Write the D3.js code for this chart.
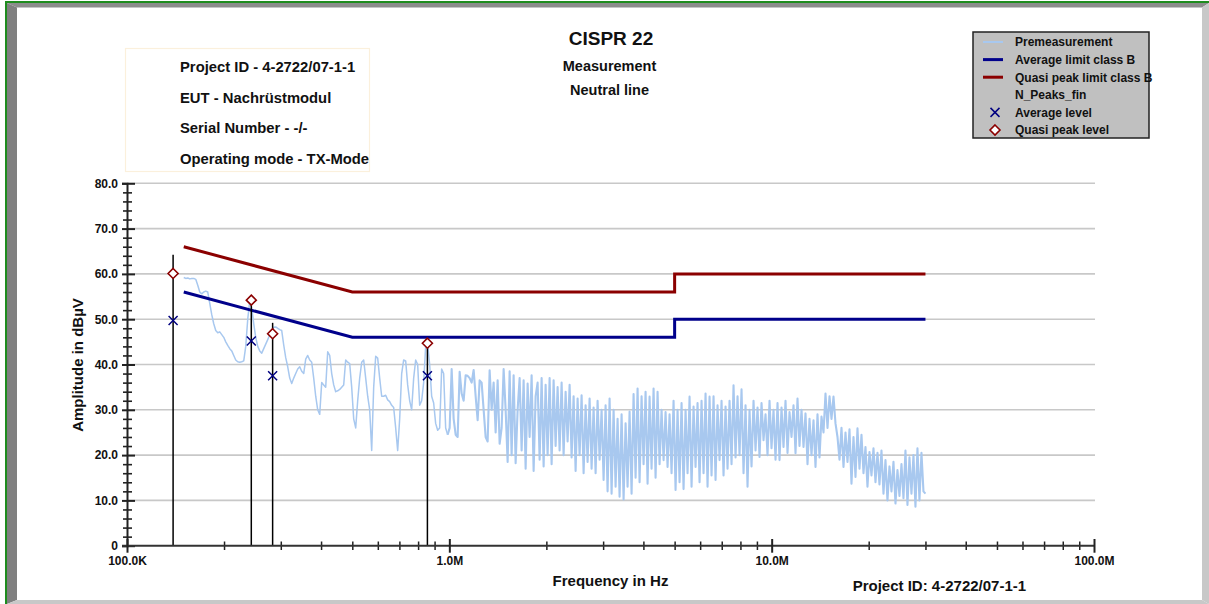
<!DOCTYPE html>
<html>
<head>
<meta charset="utf-8">
<script src="https://cdn.jsdelivr.net/npm/d3@7"></script>
<style>
html,body{margin:0;padding:0;background:#fff;}
svg{display:block;}
text{font-family:"Liberation Sans",Arial,Helvetica,sans-serif;font-weight:bold;fill:#111;}
</style>
</head>
<body>
<script>
// ---------------- data ----------------
const titleLines = ["CISPR 22", "Measurement", "Neutral line"];
const infoLines = ["Project ID - 4-2722/07-1-1", "EUT - Nachrüstmodul", "Serial Number - -/-", "Operating mode - TX-Mode"];
const footerText = "Project ID: 4-2722/07-1-1";
const xTitle = "Frequency in Hz";
const yTitle = "Amplitude in dBµV";

const xMajorTicks = [1e5, 1e6, 1e7, 1e8];
const xTickLabels = ["100.0K", "1.0M", "10.0M", "100.0M"];
const yMajorTicks = [0, 10, 20, 30, 40, 50, 60, 70, 80];
const yTickLabels = ["0", "10.0", "20.0", "30.0", "40.0", "50.0", "60.0", "70.0", "80.0"];

const legendNames = ["Premeasurement", "Average limit class B", "Quasi peak limit class B", "N_Peaks_fin", "Average level", "Quasi peak level"];

// limits (Hz, dBµV)
const avgLimitFreq  = [150e3, 500e3, 5e6, 5e6, 30e6];
const avgLimitLevel = [56, 46, 46, 50, 50];
const qpLimitFreq   = [150e3, 500e3, 5e6, 5e6, 30e6];
const qpLimitLevel  = [66, 56, 56, 60, 60];

// final peaks
const peakFreq     = [139e3, 243e3, 283e3, 855e3];
const peakLevel    = [64.2, 54.6, 49.2, 45.5];
const qpLevel      = [60.1, 54.2, 46.8, 44.7];
const avgLevel     = [49.7, 45.2, 37.5, 37.5];

// premeasurement sweep (150 kHz .. 30 MHz, log-spaced sweep points), levels in dBµV
const premStartHz = 150e3, premStopHz = 30e6;
const premLevels = [
 59.2, 59.0, 59.1, 58.9, 59.0, 59.0, 58.8, 57.5, 56.0, 55.6,
 56.0, 56.2, 56.0, 53.5, 51.0, 49.0, 47.5, 47.0, 47.2, 46.6,
 46.0, 45.0, 44.2, 43.5, 43.0, 42.0, 41.0, 40.6, 40.5, 40.6,
 40.8, 44.0, 50.0, 54.0, 52.5, 49.0, 46.0, 44.0, 43.0, 42.5,
 43.5, 44.5, 45.5, 46.5, 47.5, 48.2, 48.3, 48.0, 47.7, 47.5,
 44.3, 41.5, 39.5, 37.0, 35.8, 37.0, 38.0, 39.0, 39.5, 38.5,
 38.0, 41.2, 42.0, 41.0, 40.5, 37.0, 33.0, 30.0, 29.0, 36.0,
 35.5, 35.0, 42.8, 42.0, 38.0, 35.5, 34.0, 34.2, 34.5, 35.0,
 35.5, 41.0, 40.5, 40.2, 35.0, 28.0, 26.0, 32.0, 37.0, 40.5,
 41.0, 37.0, 33.0, 30.0, 21.0, 35.0, 41.8, 41.4, 37.0, 33.0,
 33.0, 33.2, 32.2, 31.8, 31.0, 30.5, 26.0, 21.0, 28.0, 38.0,
 41.0, 40.8, 35.5, 32.0, 30.0, 37.0, 41.0, 40.0, 31.0, 32.0,
 36.0, 44.0, 44.5, 40.0, 33.0, 31.5, 27.0, 25.5, 26.0, 39.0,
 38.0, 26.0, 24.5, 26.0, 39.0, 28.0, 24.5, 24.0, 38.4, 33.6,
 32.0, 37.6, 37.5, 37.0, 36.0, 38.8, 33.0, 27.7, 36.5, 36.0,
 30.0, 24.0, 23.0, 38.7, 30.0, 36.0, 25.0, 36.5, 22.5, 26.0,
 39.0, 30.0, 18.5, 38.5, 20.0, 37.6, 18.2, 30.0, 37.0, 21.0,
 36.5, 17.0, 35.8, 24.0, 37.6, 16.5, 33.0, 36.0, 19.0, 37.0,
 17.5, 35.5, 20.0, 37.0, 18.0, 36.5, 22.0, 35.0, 21.0, 36.0,
 20.0, 34.0, 23.0, 35.5, 19.5, 33.0, 16.5, 32.5, 20.0, 33.2,
 16.0, 31.0, 18.5, 32.5, 17.0, 30.5, 16.0, 32.0, 19.0, 30.0,
 14.5, 31.0, 12.0, 32.5, 11.5, 30.0, 13.0, 28.0, 10.8, 29.0,
 10.2, 27.0, 13.0, 29.6, 11.5, 33.5, 15.0, 34.7, 14.0, 33.0,
 18.0, 34.0, 13.7, 32.9, 17.0, 34.7, 15.0, 34.0, 18.0, 30.0,
 18.9, 29.5, 17.4, 29.0, 16.0, 32.0, 12.3, 30.0, 14.0, 31.5,
 12.5, 30.0, 16.0, 32.9, 13.0, 30.7, 17.4, 31.5, 14.0, 32.0,
 16.0, 33.6, 13.0, 32.9, 15.5, 33.0, 14.5, 31.0, 18.9, 32.0,
 15.5, 30.7, 17.0, 32.0, 18.0, 35.4, 19.5, 33.0, 20.0, 34.5,
 16.0, 31.0, 13.0, 30.0, 17.5, 32.0, 21.0, 30.5, 19.6, 31.5,
 23.3, 29.0, 20.0, 32.0, 21.5, 30.0, 19.0, 31.5, 18.9, 30.5,
 21.8, 32.0, 20.5, 29.5, 24.0, 31.0, 20.4, 32.5, 22.0, 30.0,
 21.8, 29.2, 18.0, 28.0, 20.0, 27.7, 17.4, 29.0, 19.5, 28.5,
 25.0, 33.6, 26.0, 33.0, 28.0, 32.9, 27.0, 24.0, 19.0, 26.0,
 17.4, 25.0, 18.5, 25.7, 13.7, 24.0, 15.2, 25.9, 17.0, 24.5,
 16.0, 21.8, 13.0, 20.7, 15.5, 21.5, 14.0, 20.5, 13.5, 21.0,
 11.5, 18.9, 10.0, 17.5, 12.0, 18.5,  9.3, 16.7, 11.0, 18.0,
 10.5, 21.0,  9.0, 19.5, 11.5, 20.0,  8.6, 21.5, 10.0, 20.5,
 12.0, 11.5
];
// index from which the sweep becomes dense (about 1 MHz)
const premDenseFrom = 132;

// ---------------- drawing ----------------
const W = 1209, H = 604;
const svg = d3.select("body").append("svg").attr("width", W).attr("height", H);

// frame
svg.append("rect").attr("x",0).attr("y",0).attr("width",W).attr("height",H).attr("fill","#fff");
svg.append("polygon").attr("points","7,3 1209,3 1202,7.5 17,7.5").attr("fill","#8c8c8c");
svg.append("polygon").attr("points","7,3 17,7.5 17,600 7,604").attr("fill","#808080");
svg.append("polygon").attr("points","1209,3 1209,604 1202,600 1202,7.5").attr("fill","#c8c8c8");
svg.append("polygon").attr("points","7,604 17,600 1202,600 1209,604").attr("fill","#c8c8c8");
svg.append("rect").attr("x",5).attr("y",1).attr("width",1204).attr("height",2).attr("fill","#1e8c1e");
svg.append("rect").attr("x",5).attr("y",1).attr("width",2).attr("height",603).attr("fill","#1e8c1e");

// scales
const x = d3.scaleLog().domain([1e5, 1e8]).range([127, 1094]);
const y = d3.scaleLinear().domain([0, 80]).range([545.7, 183.3]);

// gridlines
svg.append("g").selectAll("line").data(yMajorTicks.filter(v => v > 0)).join("line")
  .attr("x1", x(1e5)).attr("x2", 1095).attr("y1", d => y(d)).attr("y2", d => y(d))
  .attr("stroke", "#c8c8c8").attr("stroke-width", 1.6);

// premeasurement
const nPrem = premLevels.length;
const premData = premLevels.map((v, i) => [premStartHz * Math.pow(premStopHz / premStartHz, i / (nPrem - 1)), v]);
const premLine = d3.line().x(d => x(d[0])).y(d => y(d[1]));
svg.append("path").datum(premData.slice(premDenseFrom))
  .attr("fill", "none").attr("stroke", "#a8c8ef").attr("stroke-width", 2.1).attr("stroke-linejoin", "round")
  .attr("d", premLine);
svg.append("path").datum(premData.slice(0, premDenseFrom + 1))
  .attr("fill", "none").attr("stroke", "#a8c8ef").attr("stroke-width", 1.5).attr("stroke-linejoin", "round")
  .attr("d", premLine);

// limits
const limLine = d3.line().x(d => x(d[0])).y(d => y(d[1]));
svg.append("path").datum(qpLimitFreq.map((f, i) => [f, qpLimitLevel[i]]))
  .attr("fill", "none").attr("stroke", "#8b0000").attr("stroke-width", 3).attr("d", limLine);
svg.append("path").datum(avgLimitFreq.map((f, i) => [f, avgLimitLevel[i]]))
  .attr("fill", "none").attr("stroke", "#00008b").attr("stroke-width", 3).attr("d", limLine);

// stems (N_Peaks_fin)
svg.append("g").selectAll("line").data(peakFreq).join("line")
  .attr("x1", d => x(d)).attr("x2", d => x(d))
  .attr("y1", y(0)).attr("y2", (d, i) => y(peakLevel[i]))
  .attr("stroke", "#000").attr("stroke-width", 1.5);

// axes
const yAxis = svg.append("g").attr("transform", `translate(${x(1e5)},0)`)
  .call(d3.axisLeft(y).tickValues(yMajorTicks).tickFormat((d, i) => yTickLabels[i]).tickSize(5).tickPadding(4));
yAxis.select(".domain").attr("stroke", "#222").attr("stroke-width", 2);
yAxis.selectAll(".tick line").attr("x1", 8).attr("stroke", "#222").attr("stroke-width", 2);
yAxis.selectAll(".tick text").style("font-size", "12px").style("font-family", "'Liberation Sans',Arial,sans-serif").style("font-weight", "bold").attr("fill", "#222");

const yMinor = d3.range(0, 81, 2).filter(v => v % 10 !== 0);
const yAxisMinor = svg.append("g").attr("transform", `translate(${x(1e5)},0)`)
  .call(d3.axisLeft(y).tickValues(yMinor).tickFormat("").tickSize(4));
yAxisMinor.select(".domain").remove();
yAxisMinor.selectAll(".tick line").attr("x1", 5).attr("stroke", "#222").attr("stroke-width", 1.6);

const xMinor = [];
[1e5, 1e6, 1e7].forEach(b => { for (let k = 2; k <= 9; k++) xMinor.push(b * k); });
const xAxisMinor = svg.append("g").attr("transform", `translate(0,${y(0)})`)
  .call(d3.axisBottom(x).tickValues(xMinor).tickFormat("").tickSize(4.3));
xAxisMinor.select(".domain").remove();
xAxisMinor.selectAll(".tick line").attr("y1", -4.2).attr("stroke", "#222").attr("stroke-width", 1.5);

const xAxis = svg.append("g").attr("transform", `translate(0,${y(0)})`)
  .call(d3.axisBottom(x).tickValues(xMajorTicks).tickFormat((d, i) => xTickLabels[i]).tickSize(7).tickPadding(3.3));
xAxis.select(".domain").attr("stroke", "#333").attr("stroke-width", 2).attr("d", `M${x(1e5) - 5},0H${x(1e8)}`);
xAxis.selectAll(".tick line").attr("y1", -6.7).attr("stroke", "#222").attr("stroke-width", 2);
xAxis.selectAll(".tick text").style("font-size", "12px").style("font-family", "'Liberation Sans',Arial,sans-serif").style("font-weight", "bold").attr("fill", "#222");

// markers
const diamond = (cx, cy, r) => `M${cx},${cy - r}L${cx + r},${cy}L${cx},${cy + r}L${cx - r},${cy}Z`;
const cross = (cx, cy, r) => `M${cx - r},${cy - r}L${cx + r},${cy + r}M${cx - r},${cy + r}L${cx + r},${cy - r}`;
svg.append("g").selectAll("path").data(peakFreq).join("path")
  .attr("d", (d, i) => cross(x(d), y(avgLevel[i]), 4.5))
  .attr("stroke", "#000080").attr("stroke-width", 1.5).attr("fill", "none");
svg.append("g").selectAll("path").data(peakFreq).join("path")
  .attr("d", (d, i) => diamond(x(d), y(qpLevel[i]), 5))
  .attr("stroke", "#8b0000").attr("stroke-width", 1.6).attr("fill", "#fff");

// axis titles
svg.append("text").attr("x", 610.5).attr("y", 585.5).attr("text-anchor", "middle").style("font-size", "15px").text(xTitle);
svg.append("text").attr("transform", "translate(83,365) rotate(-90)").attr("text-anchor", "middle").style("font-size", "15px").text(yTitle);
svg.append("text").attr("x", 852.7).attr("y", 591).style("font-size", "15px").text(footerText);

// title
svg.append("text").attr("x", 611).attr("y", 45).attr("text-anchor", "middle").style("font-size", "19px").text(titleLines[0]);
svg.append("text").attr("x", 609.5).attr("y", 70.7).attr("text-anchor", "middle").style("font-size", "14.5px").text(titleLines[1]);
svg.append("text").attr("x", 609.5).attr("y", 94.5).attr("text-anchor", "middle").style("font-size", "14.5px").text(titleLines[2]);

// info box
svg.append("rect").attr("x", 125.5).attr("y", 48.5).attr("width", 244).attr("height", 123)
  .attr("fill", "none").attr("stroke", "#fbf0dc").attr("stroke-width", 1.2);
svg.append("g").selectAll("text").data(infoLines).join("text")
  .attr("x", 180).attr("y", (d, i) => 72 + i * 30.5).style("font-size", "14.8px").text(d => d);

// legend
const lg = svg.append("g");
lg.append("rect").attr("x", 973).attr("y", 32).attr("width", 176).attr("height", 106)
  .attr("fill", "#c0c0c0").attr("stroke", "#222").attr("stroke-width", 1.5);
const rowY = i => 42 + i * 17.6;
lg.append("line").attr("x1", 983).attr("x2", 1003).attr("y1", rowY(0)).attr("y2", rowY(0)).attr("stroke", "#a8c8ef").attr("stroke-width", 2);
lg.append("line").attr("x1", 983).attr("x2", 1003).attr("y1", rowY(1)).attr("y2", rowY(1)).attr("stroke", "#00008b").attr("stroke-width", 3);
lg.append("line").attr("x1", 983).attr("x2", 1003).attr("y1", rowY(2)).attr("y2", rowY(2)).attr("stroke", "#8b0000").attr("stroke-width", 3);
lg.append("path").attr("d", cross(995, rowY(4), 4.5)).attr("stroke", "#000080").attr("stroke-width", 1.5).attr("fill", "none");
lg.append("path").attr("d", diamond(995, rowY(5), 5)).attr("stroke", "#8b0000").attr("stroke-width", 1.6).attr("fill", "#fff");
lg.selectAll("text").data(legendNames).join("text")
  .attr("x", 1015).attr("y", (d, i) => rowY(i) + 4.3).style("font-size", "12px").text(d => d);
</script>
</body>
</html>
